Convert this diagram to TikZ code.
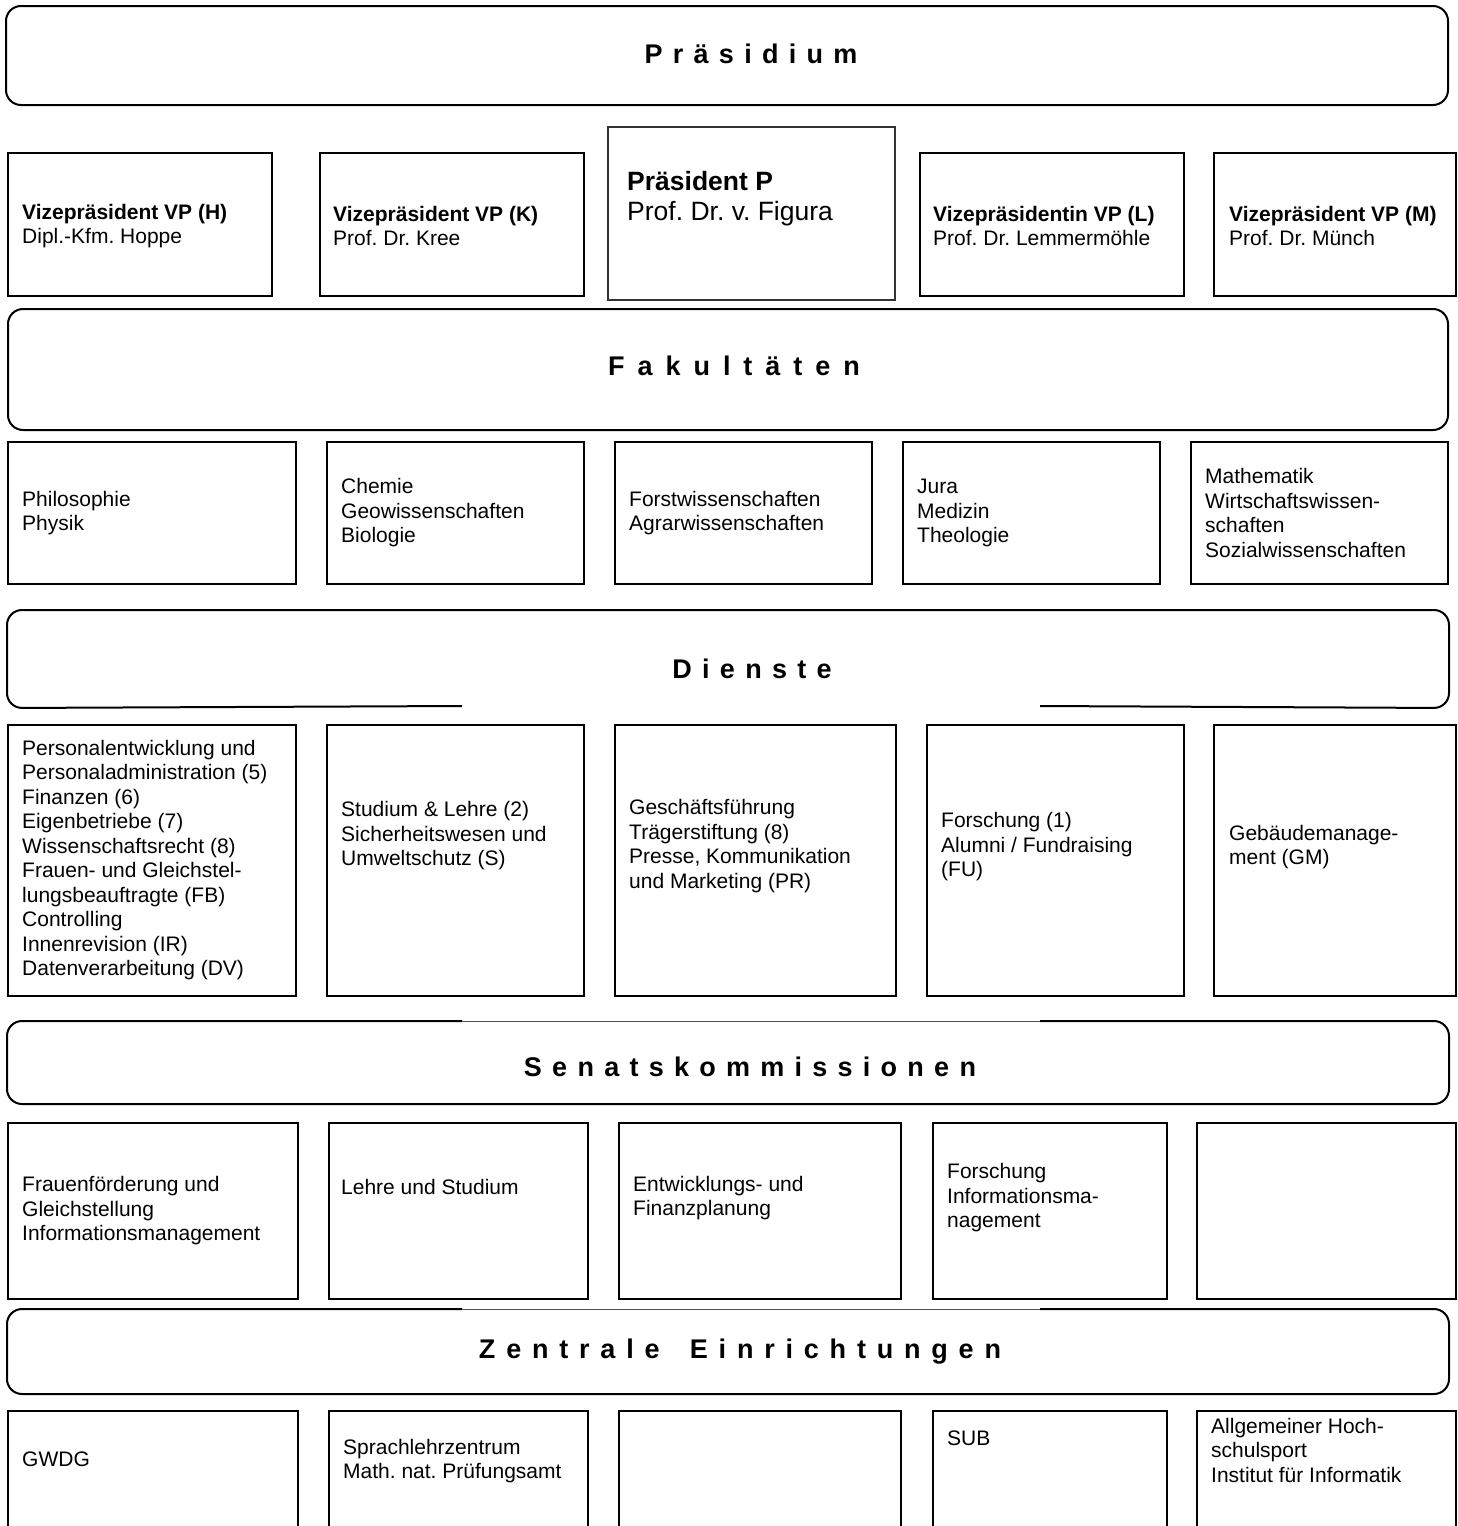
\documentclass[tikz,border=0pt]{standalone}
\usepackage{fontspec}
\setmainfont{Liberation Sans}
\newfontfamily\spacedfont[LetterSpace=38]{Liberation Sans}
\usetikzlibrary{positioning}
\frenchspacing

\begin{document}
\begin{tikzpicture}[
    x=1pt, y=-1pt,
    banner/.style={
        rectangle,
        rounded corners=15pt,
        draw=black,
        line width=2pt,
        anchor=north west,
        inner sep=0pt
    },
    title/.style={
        font=\fontsize{27}{32}\selectfont\spacedfont\bfseries,
        text height=20pt,
        text depth=6pt
    },
    box/.style={
        rectangle,
        draw=black,
        line width=2pt,
        anchor=north west,
        inner sep=0pt
    },
    txt/.style={
        font=\fontsize{21}{24.5}\selectfont,
        align=left,
        anchor=west,
        inner sep=0pt
    },
    gapline/.style={
        draw=black,
        line width=2pt
    }
]
\useasboundingbox (0,0) rectangle (1457,1526);

% Praesidium
\node[banner, minimum width=1442pt, minimum height=99pt] (praesidium) at (5,5) {};
\node[title] (t-praesidium) at (751,56) {Präsidium};

\node[box, minimum width=264pt, minimum height=143pt] (vph) at (7,152) {};
\node[box, minimum width=264pt, minimum height=143pt] (vpk) at (319,152) {};
\node[box, line width=1.5pt, draw=black!80, minimum width=287pt, minimum height=173pt] (pres) at (607,126) {};
\node[box, minimum width=264pt, minimum height=143pt] (vpl) at (919,152) {};
\node[box, minimum width=242pt, minimum height=143pt] (vpm) at (1213,152) {};

\node[txt] (vph-t) at (22,226) {\textbf{Vizepräsident VP (H)}\\Dipl.-Kfm. Hoppe};
\node[txt] (vpk-t) at (333,226) {\textbf{Vizepräsident VP (K)}\\Prof. Dr. Kree};
\node[txt, font=\fontsize{26.5}{30}\selectfont] (pres-t) at (627,199) {\textbf{Präsident P}\\Prof. Dr. v. Figura};
\node[txt] (vpl-t) at (933,226) {\textbf{Vizepräsidentin VP (L)}\\Prof. Dr. Lemmermöhle};
\node[txt] (vpm-t) at (1229,226) {\textbf{Vizepräsident VP (M)}\\Prof. Dr. Münch};

% Fakultaeten
\node[banner, minimum width=1440pt, minimum height=121pt] (fakultaeten) at (7,308) {};
\node[title] (t-fakultaeten) at (734,368) {\addfontfeature{LetterSpace=48}Fakultäten};

\node[box, minimum width=288pt, minimum height=142pt] (fak1) at (7,441) {};
\node[box, minimum width=257pt, minimum height=142pt] (fak2) at (326,441) {};
\node[box, minimum width=257pt, minimum height=142pt] (fak3) at (614,441) {};
\node[box, minimum width=257pt, minimum height=142pt] (fak4) at (902,441) {};
\node[box, minimum width=257pt, minimum height=142pt] (fak5) at (1190,441) {};

\node[txt] (fak1-t) at (22,513) {Philosophie\\Physik};
\node[txt] (fak2-t) at (341,513) {Chemie\\Geowissenschaften\\Biologie};
\node[txt] (fak3-t) at (629,513) {Forstwissenschaften\\Agrarwissenschaften};
\node[txt] (fak4-t) at (917,513) {Jura\\Medizin\\Theologie};
\node[txt] (fak5-t) at (1205,513) {Mathematik\\Wirtschaftswissen-\\schaften\\Sozialwissenschaften};

% Dienste (bottom edge open in the middle)
\node[banner, draw=none, minimum width=1440pt, minimum height=96pt] (dienste) at (7,610) {};
\coordinate (dienste-gl) at (462,706);
\coordinate (dienste-gr) at (1040,706);
\draw[gapline, rounded corners=15pt] (dienste-gl) -- (dienste.south west) -- (dienste.north west)
    -- (dienste.north east) -- (dienste.south east) -- (dienste-gr);
\node[title] (t-dienste) at (752,671) {Dienste};

\node[box, minimum width=288pt, minimum height=271pt] (di1) at (7,724) {};
\node[box, minimum width=257pt, minimum height=271pt] (di2) at (326,724) {};
\node[box, minimum width=281pt, minimum height=271pt] (di3) at (614,724) {};
\node[box, minimum width=257pt, minimum height=271pt] (di4) at (926,724) {};
\node[box, minimum width=242pt, minimum height=271pt] (di5) at (1213,724) {};

\node[txt] (di1-t) at (22,860) {Personalentwicklung und\\Personaladministration (5)\\Finanzen (6)\\Eigenbetriebe (7)\\Wissenschaftsrecht (8)\\Frauen- und Gleichstel-\\lungsbeauftragte (FB)\\Controlling\\Innenrevision (IR)\\Datenverarbeitung (DV)};
\node[txt] (di2-t) at (341,836) {Studium \& Lehre (2)\\Sicherheitswesen und\\Umweltschutz (S)};
\node[txt] (di3-t) at (629,846) {Geschäftsführung\\Trägerstiftung (8)\\Presse, Kommunikation\\und Marketing (PR)};
\node[txt] (di4-t) at (941,847) {Forschung (1)\\Alumni / Fundraising\\(FU)};
\node[txt] (di5-t) at (1229,847) {Gebäudemanage-\\ment (GM)};

% Senatskommissionen (top edge thinner in the middle)
\node[banner, draw=none, minimum width=1440pt, minimum height=81pt] (senat) at (7,1021) {};
\coordinate (senat-gl) at (462,1021);
\coordinate (senat-gr) at (1040,1021);
\draw[gapline, rounded corners=15pt] (senat-gr) -- (senat.north east) -- (senat.south east)
    -- (senat.south west) -- (senat.north west) -- (senat-gl);
\draw[line width=1pt, draw=black!70] (senat-gl) -- (senat-gr);
\node[title] (t-senat) at (750,1069) {Senatskommissionen};

\node[box, minimum width=290pt, minimum height=176pt] (sk1) at (7,1122) {};
\node[box, minimum width=259pt, minimum height=176pt] (sk2) at (328,1122) {};
\node[box, minimum width=282pt, minimum height=176pt] (sk3) at (618,1122) {};
\node[box, minimum width=234pt, minimum height=176pt] (sk4) at (932,1122) {};
\node[box, minimum width=259pt, minimum height=176pt] (sk5) at (1196,1122) {};

\node[txt] (sk1-t) at (22,1211) {Frauenförderung und\\Gleichstellung\\Informationsmanagement};
\node[txt] (sk2-t) at (341,1187) {Lehre und Studium};
\node[txt] (sk3-t) at (633,1198) {Entwicklungs- und\\Finanzplanung};
\node[txt] (sk4-t) at (947,1198) {Forschung\\Informationsma-\\nagement};

% Zentrale Einrichtungen (top edge thinner in the middle)
\node[banner, draw=none, minimum width=1440pt, minimum height=83pt] (zentral) at (7,1309) {};
\coordinate (zentral-gl) at (462,1309);
\coordinate (zentral-gr) at (1040,1309);
\draw[gapline, rounded corners=15pt] (zentral-gr) -- (zentral.north east) -- (zentral.south east)
    -- (zentral.south west) -- (zentral.north west) -- (zentral-gl);
\draw[line width=1pt, draw=black!70] (zentral-gl) -- (zentral-gr);
\node[title] (t-zentral) at (740,1351) {\addfontfeature{LetterSpace=40}Zentrale\hspace{12pt} Einrichtungen};

% last row runs past the lower edge of the page
\node[box, minimum width=290pt, minimum height=160pt] (ze1) at (7,1410) {};
\node[box, minimum width=259pt, minimum height=160pt] (ze2) at (328,1410) {};
\node[box, minimum width=282pt, minimum height=160pt] (ze3) at (618,1410) {};
\node[box, minimum width=234pt, minimum height=160pt] (ze4) at (932,1410) {};
\node[box, minimum width=259pt, minimum height=160pt] (ze5) at (1196,1410) {};

\node[txt] (ze1-t) at (22,1459) {GWDG};
\node[txt] (ze2-t) at (343,1461) {Sprachlehrzentrum\\Math. nat. Prüfungsamt};
\node[txt] (ze4-t) at (947,1438) {SUB};
\node[txt] (ze5-t) at (1211,1450) {Allgemeiner Hoch-\\schulsport\\Institut für Informatik};

\end{tikzpicture}
\end{document}
